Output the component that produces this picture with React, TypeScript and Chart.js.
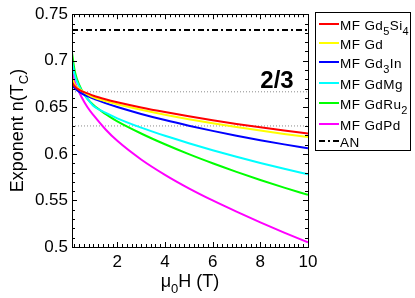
import React, { useEffect, useRef } from "react";
import { Chart, registerables } from "chart.js";

Chart.register(...registerables);

// ---------- data ----------
const fieldT = [0.1, 0.2, 0.3, 0.5, 0.75, 1, 1.5, 2, 3, 4, 5, 6, 7, 8, 9, 10];

const mfGd5Si4 = [0.677, 0.673, 0.6705, 0.6675, 0.665, 0.6625, 0.6587, 0.6555, 0.6499, 0.6449, 0.6403, 0.6361, 0.6322, 0.6286, 0.6252, 0.622];
const mfGd = [0.682, 0.675, 0.6715, 0.668, 0.664, 0.6607, 0.6567, 0.6533, 0.6474, 0.6421, 0.6373, 0.6329, 0.6288, 0.625, 0.6214, 0.618];
const mfGd3In = [0.675, 0.671, 0.6685, 0.665, 0.662, 0.6595, 0.6545, 0.6503, 0.6429, 0.6363, 0.6303, 0.6247, 0.6195, 0.6147, 0.6102, 0.606];
const mfGdMg = [0.7, 0.686, 0.678, 0.668, 0.659, 0.6515, 0.6442, 0.6382, 0.6282, 0.6194, 0.6114, 0.6039, 0.5969, 0.5903, 0.584, 0.578];
const mfGdRu2 = [0.709, 0.691, 0.681, 0.669, 0.659, 0.6524, 0.6429, 0.6349, 0.6219, 0.6103, 0.5997, 0.5899, 0.5807, 0.572, 0.5638, 0.556];
const mfGdPd = [0.69, 0.679, 0.672, 0.661, 0.65, 0.6415, 0.6265, 0.614, 0.594, 0.5775, 0.563, 0.55, 0.538, 0.5265, 0.5155, 0.505];

const anValue = 0.733;
const refLevels = [2 / 3, 0.63];

const seriesLabels = ["MF Gd_5Si_4", "MF Gd", "MF Gd_3In", "MF GdMg", "MF GdRu_2", "MF GdPd"];
const seriesValues = [mfGd5Si4, mfGd, mfGd3In, mfGdMg, mfGdRu2, mfGdPd];
const seriesColors = ["#ff0000", "#ffff00", "#0000ff", "#00ffff", "#00ff00", "#ff00ff"];
const anLabel = "AN";

const xMin = 0.1;
const xMax = 10;
const yMin = 0.5;
const yMax = 0.75;
const xTicks = [2, 4, 6, 8, 10];
const yTicks = [0.5, 0.55, 0.6, 0.65, 0.7, 0.75];
const xMinorStep = 0.2;
const yMinorStep = 0.01;

const xTitle = "\u03bc_0H (T)";
const yTitle = "Exponent n(T_C)";
const annotationText = "2/3";
const annotationX = 8.0;
const annotationY = 0.6705;

const FONT = '"Liberation Sans", Arial, Helvetica, sans-serif';
const AN_DASH = [6, 3, 2, 3];

// ---------- rich text helper (supports _x subscripts) ----------
function parseRich(text: string) {
  const parts: { t: string; sub: boolean }[] = [];
  let i = 0;
  let cur = "";
  while (i < text.length) {
    if (text[i] === "_" && i + 1 < text.length) {
      if (cur) parts.push({ t: cur, sub: false });
      cur = "";
      parts.push({ t: text[i + 1], sub: true });
      i += 2;
    } else {
      cur += text[i];
      i++;
    }
  }
  if (cur) parts.push({ t: cur, sub: false });
  return parts;
}

function richWidth(ctx: CanvasRenderingContext2D, text: string, size: number, subSize: number, weight = "normal") {
  let w = 0;
  for (const p of parseRich(text)) {
    ctx.font = `${weight} ${p.sub ? subSize : size}px ${FONT}`;
    w += ctx.measureText(p.t).width;
  }
  return w;
}

function drawRich(
  ctx: CanvasRenderingContext2D,
  text: string,
  x: number,
  y: number,
  size: number,
  subSize: number,
  subOffset: number,
  weight = "normal"
) {
  let cx = x;
  ctx.textAlign = "left";
  ctx.textBaseline = "alphabetic";
  for (const p of parseRich(text)) {
    ctx.font = `${weight} ${p.sub ? subSize : size}px ${FONT}`;
    ctx.fillText(p.t, cx, p.sub ? y + subOffset : y);
    cx += ctx.measureText(p.t).width;
  }
}

const decorPlugin = {
  id: "decor",
  afterDraw(chart: any) {
    const ctx: CanvasRenderingContext2D = chart.ctx;
    const { left, right, top, bottom } = chart.chartArea;
    const xs = chart.scales.x;
    const ys = chart.scales.y;
    ctx.save();
    ctx.fillStyle = "#000";
    ctx.strokeStyle = "#000";
    ctx.lineWidth = 1;

    // frame
    ctx.strokeRect(Math.round(left) + 0.5, Math.round(top) + 0.5, Math.round(right - left), Math.round(bottom - top));

    // ticks (inward on all sides)
    ctx.beginPath();
    const majorLen = 5;
    const minorLen = 3;
    for (let v = xMinorStep; v < xMax + 1e-9; v += xMinorStep) {
      const vv = Math.round(v * 1000) / 1000;
      if (vv < xMin) continue;
      const isMajor = xTicks.some((t) => Math.abs(t - vv) < 1e-6);
      const len = isMajor ? majorLen : minorLen;
      const px = Math.round(xs.getPixelForValue(vv)) + 0.5;
      ctx.moveTo(px, bottom);
      ctx.lineTo(px, bottom - len);
      ctx.moveTo(px, top);
      ctx.lineTo(px, top + len);
    }
    for (let v = yMin; v <= yMax + 1e-9; v += yMinorStep) {
      const vv = Math.round(v * 1000) / 1000;
      const isMajor = yTicks.some((t) => Math.abs(t - vv) < 1e-6);
      const len = isMajor ? majorLen : minorLen;
      const py = Math.round(ys.getPixelForValue(vv)) + 0.5;
      ctx.moveTo(left, py);
      ctx.lineTo(left + len, py);
      ctx.moveTo(right, py);
      ctx.lineTo(right - len, py);
    }
    ctx.stroke();

    // annotation "2/3"
    ctx.fillStyle = "#000";
    ctx.font = `bold 24px ${FONT}`;
    ctx.textAlign = "left";
    ctx.textBaseline = "alphabetic";
    ctx.fillText(annotationText, xs.getPixelForValue(annotationX), ys.getPixelForValue(annotationY));

    // x title
    const tSize = 18;
    const tw = richWidth(ctx, xTitle, tSize, 13);
    drawRich(ctx, xTitle, (left + right) / 2 - tw / 2, 287, tSize, 13, 6);

    // y title (rotated)
    const yw = richWidth(ctx, yTitle, tSize, 13);
    ctx.save();
    ctx.translate(23, (top + bottom) / 2);
    ctx.rotate(-Math.PI / 2);
    drawRich(ctx, yTitle, -yw / 2, 0, tSize, 13, 5);
    ctx.restore();

    // legend
    const lx0 = 315.5, ly0 = 12.5, lx1 = 410.5, ly1 = 150.5;
    ctx.fillStyle = "#fff";
    ctx.fillRect(lx0, ly0, lx1 - lx0, ly1 - ly0);
    ctx.strokeStyle = "#000";
    ctx.lineWidth = 1;
    ctx.strokeRect(lx0, ly0, lx1 - lx0, ly1 - ly0);
    const rowY = [24, 43, 62, 83, 103, 124, 141];
    const labels = [...seriesLabels, anLabel];
    const colors = [...seriesColors, "#000"];
    labels.forEach((lab, i) => {
      const y = rowY[i];
      ctx.beginPath();
      ctx.strokeStyle = colors[i];
      ctx.lineWidth = 2;
      ctx.setLineDash(i === labels.length - 1 ? AN_DASH : []);
      ctx.moveTo(319, y);
      ctx.lineTo(339, y);
      ctx.stroke();
      ctx.setLineDash([]);
      ctx.fillStyle = "#000";
      (ctx as any).letterSpacing = "0.4px";
      drawRich(ctx, lab, 340, y + 5.5, 13.5, 11, 5);
      (ctx as any).letterSpacing = "0px";
    });

    ctx.restore();
  },
};

export default function App() {
  const ref = useRef<HTMLCanvasElement | null>(null);

  useEffect(() => {
    if (!ref.current) return;
    const curveSets = seriesValues.map((vals, i) => ({
      label: seriesLabels[i],
      data: fieldT.map((x, j) => ({ x, y: vals[j] })),
      borderColor: seriesColors[i],
      borderWidth: 2,
      pointRadius: 0,
      cubicInterpolationMode: "monotone" as const,
      fill: false,
      order: 1,
    }));
    const anSet = {
      label: anLabel,
      data: [
        { x: xMin, y: anValue },
        { x: xMax, y: anValue },
      ],
      borderColor: "#000",
      borderWidth: 2,
      borderDash: AN_DASH,
      pointRadius: 0,
      fill: false,
      order: 1,
    };
    const refSets = refLevels.map((v) => ({
      label: "ref",
      data: [
        { x: xMin, y: v },
        { x: xMax, y: v },
      ],
      borderColor: "#8c8c8c",
      borderWidth: 1,
      borderDash: [1, 2],
      pointRadius: 0,
      fill: false,
      order: 10,
    }));

    const chart = new Chart(ref.current, {
      type: "line",
      data: { datasets: [...curveSets, anSet, ...refSets] as any },
      options: {
        animation: false,
        responsive: false,
        devicePixelRatio: 1,
        layout: { padding: { top: 13, right: 107, left: 0, bottom: 0 } },
        plugins: { legend: { display: false }, tooltip: { enabled: false } },
        scales: {
          x: {
            type: "linear",
            min: xMin,
            max: xMax,
            grid: { display: false, drawTicks: false },
            border: { display: false },
            afterBuildTicks: (s: any) => {
              s.ticks = xTicks.map((v) => ({ value: v }));
            },
            afterFit: (s: any) => {
              s.height = 51;
            },
            ticks: {
              autoSkip: false,
              maxRotation: 0,
              padding: 5,
              color: "#000",
              font: { family: FONT, size: 17 },
              callback: (v: any) => String(v),
            },
          },
          y: {
            type: "linear",
            min: yMin,
            max: yMax,
            grid: { display: false, drawTicks: false },
            border: { display: false },
            afterBuildTicks: (s: any) => {
              s.ticks = yTicks.map((v) => ({ value: v }));
            },
            afterFit: (s: any) => {
              s.width = 72;
            },
            ticks: {
              autoSkip: false,
              padding: 4,
              color: "#000",
              font: { family: FONT, size: 17 },
              callback: (v: any) => String(Number(Number(v).toFixed(2))),
            },
          },
        },
      },
      plugins: [decorPlugin],
    });
    return () => chart.destroy();
  }, []);

  return (
    <div style={{ position: "fixed", left: 0, top: 0, width: 415, height: 298, background: "#fff" }}>
      <canvas ref={ref} width={415} height={298} style={{ display: "block" }} />
    </div>
  );
}
